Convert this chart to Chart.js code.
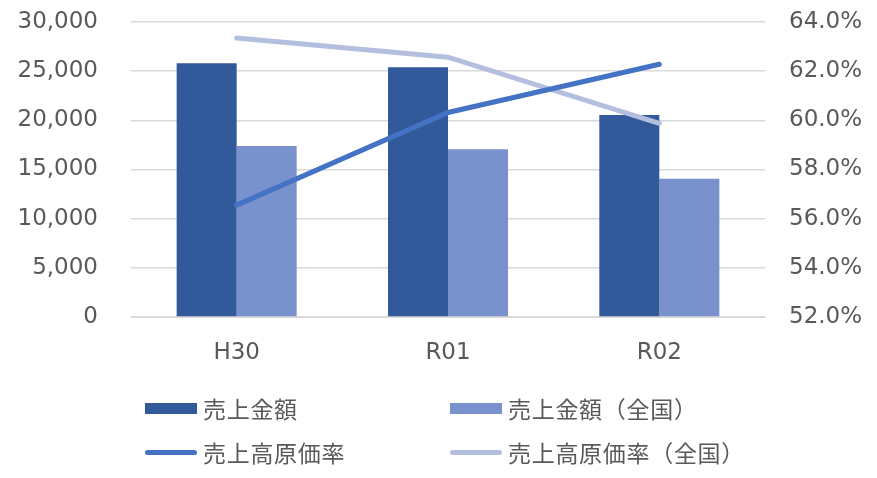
<!DOCTYPE html>
<html>
<head>
<meta charset="utf-8">
<script src="https://cdn.jsdelivr.net/npm/chart.js@4"></script>
<style>
  html, body { margin: 0; padding: 0; background: #fff; }
  .wrap { position: relative; width: 877px; height: 478px; }
  canvas { position: absolute; left: 0; top: 0; }
  .legend { position: absolute; font-family: "Noto Sans CJK JP", "DejaVu Sans", sans-serif; font-size: 23px; letter-spacing: 0.7px; color: #595959; }
  .item { position: absolute; display: flex; align-items: center; white-space: nowrap; }
  .swatch { width: 52px; margin-right: 6px; }
</style>
</head>
<body>
<div class="wrap">
  <canvas id="c" width="877" height="478"></canvas>
  <div class="legend" id="legend"></div>
</div>
<script>
const categories = ['H30', 'R01', 'R02'];
const sales = [25800, 25400, 20550];
const salesNational = [17400, 17050, 14070];
const costRate = [56.55, 60.32, 62.28];
const costRateNational = [63.35, 62.57, 59.88];
const leftTicks = [0, 5000, 10000, 15000, 20000, 25000, 30000];
const rightTicks = [52, 54, 56, 58, 60, 62, 64];

const labels = ['売上金額', '売上金額（全国）', '売上高原価率', '売上高原価率（全国）'];
const colors = ['#32599A', '#7991CD', '#4472C4', '#B4BFE0'];

const tickFont = { family: '"DejaVu Sans", Verdana, sans-serif', size: 23 };
const textColor = '#595959';

// keep the tick padding from pushing the plot area down
const fixVertical = w => s => { s.width = w; s.paddingTop = 0; s.paddingBottom = 0; };

new Chart(document.getElementById('c'), {
  data: {
    labels: categories,
    datasets: [
      { type: 'line', label: labels[2], data: costRate, yAxisID: 'y1', borderColor: colors[2], borderWidth: 5, borderCapStyle: 'round', pointRadius: 0, order: 0 },
      { type: 'line', label: labels[3], data: costRateNational, yAxisID: 'y1', borderColor: colors[3], borderWidth: 5, borderCapStyle: 'round', pointRadius: 0, order: 1 },
      { type: 'bar', label: labels[0], data: sales, yAxisID: 'y', backgroundColor: colors[0], categoryPercentage: 0.568, barPercentage: 1, order: 2 },
      { type: 'bar', label: labels[1], data: salesNational, yAxisID: 'y', backgroundColor: colors[1], categoryPercentage: 0.568, barPercentage: 1, order: 3 }
    ]
  },
  options: {
    responsive: false,
    animation: false,
    layout: { padding: { top: 22, left: 0, right: 0, bottom: 0 } },
    plugins: { legend: { display: false }, tooltip: { enabled: false } },
    scales: {
      x: {
        grid: { display: false, drawTicks: false },
        border: { display: true, color: '#D9D9D9', width: 1 },
        ticks: { color: textColor, font: tickFont, padding: 22 },
        afterFit: s => { s.height = 161; s.paddingLeft = 0; s.paddingRight = 0; }
      },
      y: {
        position: 'left',
        min: 0, max: 30000,
        afterBuildTicks: s => { s.ticks = leftTicks.map(v => ({ value: v })); },
        grid: { color: '#D9D9D9', lineWidth: 1.5, drawTicks: false },
        border: { display: false },
        ticks: { color: textColor, font: tickFont, padding: 33, callback: v => v.toLocaleString('en-US') },
        afterFit: fixVertical(131)
      },
      y1: {
        position: 'right',
        min: 52, max: 64,
        afterBuildTicks: s => { s.ticks = rightTicks.map(v => ({ value: v })); },
        grid: { display: false, drawTicks: false },
        border: { display: false },
        ticks: { color: textColor, font: tickFont, padding: 24, callback: v => v.toFixed(1) + '%' },
        afterFit: fixVertical(112)
      }
    }
  }
});

// legend in two columns, as in the original
const legendPos = [[145, 408], [450, 408], [145, 452], [450, 452]];
const legendEl = document.getElementById('legend');
labels.forEach((t, i) => {
  const item = document.createElement('div');
  item.className = 'item';
  item.style.left = legendPos[i][0] + 'px';
  item.style.top = (legendPos[i][1] - 16) + 'px';
  item.style.height = '32px';
  const sw = document.createElement('span');
  sw.className = 'swatch';
  sw.style.background = colors[i];
  if (i < 2) { sw.style.height = '11px'; }
  else { sw.style.height = '5px'; sw.style.borderRadius = '3px'; }
  const tx = document.createElement('span');
  tx.textContent = t;
  item.appendChild(sw);
  item.appendChild(tx);
  legendEl.appendChild(item);
});
</script>
</body>
</html>
